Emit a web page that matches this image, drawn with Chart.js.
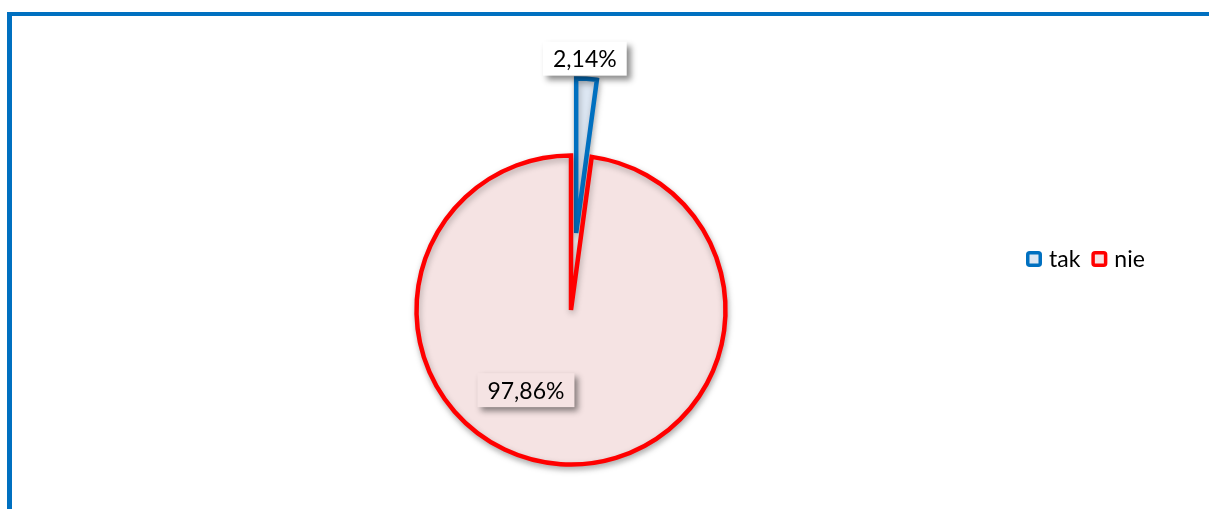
<!DOCTYPE html>
<html>
<head>
<meta charset="utf-8">
<script src="https://cdn.jsdelivr.net/npm/chart.js@4.4.0/dist/chart.umd.min.js"></script>
<style>
  html, body { margin: 0; padding: 0; background: #fff; }
  #wrap { position: relative; width: 1209px; height: 509px; overflow: hidden; }
  #frame {
    position: absolute; left: 7px; top: 12px; width: 1300px; height: 600px;
    border-left: 5px solid #0070c0; border-top: 4px solid #0070c0;
  }
  #chart { position: absolute; left: 0; top: 0; }
</style>
</head>
<body>
<div id="wrap">
  <div id="frame"></div>
  <canvas id="chart" width="1209" height="509"></canvas>
</div>
<script>
  // data
  const labels = ['tak', 'nie'];
  const values = [2.14, 97.86];

  const lineColors = ['#0070c0', '#ff0000'];
  const fillColors = ['#dde7f3', '#f5e3e3'];
  const boxFills = ['#ffffff', '#f5e3e3'];

  const fmt = (v) => v.toFixed(2).replace('.', ',') + '%';

  // excel-like slice explosion: move the slice out by a share of the radius
  // (chart.js' own "offset" also grows the slice, so it is done here instead)
  const explode = {
    id: 'explode',
    afterDatasetsUpdate(chart, args, opts) {
      const meta = chart.getDatasetMeta(0);
      meta.data.forEach((arc, i) => {
        const k = opts.share[i] || 0;
        if (!k) return;
        const mid = (arc.startAngle + arc.endAngle) / 2;
        arc.x += Math.cos(mid) * arc.outerRadius * k;
        arc.y += Math.sin(mid) * arc.outerRadius * k;
      });
    },
  };

  // soft shadow under the pie, like the original
  const pieShadow = {
    id: 'pieShadow',
    beforeDatasetsDraw(chart) {
      const ctx = chart.ctx;
      ctx.save();
      ctx.shadowColor = 'rgba(0,0,0,0.28)';
      ctx.shadowBlur = 6;
      ctx.shadowOffsetX = 1;
      ctx.shadowOffsetY = 3;
    },
    afterDatasetsDraw(chart) {
      chart.ctx.restore();
    },
  };

  // value labels in little boxes with a drop shadow
  const valueBoxes = {
    id: 'valueBoxes',
    afterDatasetsDraw(chart, args, opts) {
      const ctx = chart.ctx;
      const ds = chart.data.datasets[0];
      const meta = chart.getDatasetMeta(0);
      ctx.save();
      ctx.font = opts.font;
      ctx.textAlign = 'center';
      ctx.textBaseline = 'middle';
      meta.data.forEach((arc, i) => {
        const place = opts.place[i];
        const mid = (arc.startAngle + arc.endAngle) / 2;
        const a = mid + place.shift * Math.PI / 180;
        const d = arc.outerRadius * place.dist + place.gap;
        const cx = arc.x + Math.cos(a) * d;
        const cy = arc.y + Math.sin(a) * d;
        const text = fmt(ds.data[i]);
        const w = ctx.measureText(text).width + opts.padX * 2;
        const h = opts.height;

        ctx.save();
        ctx.shadowColor = 'rgba(0,0,0,0.45)';
        ctx.shadowBlur = 6;
        ctx.shadowOffsetX = 4;
        ctx.shadowOffsetY = 4;
        ctx.fillStyle = boxFills[i];
        ctx.fillRect(cx - w / 2, cy - h / 2, w, h);
        ctx.restore();

        ctx.fillStyle = '#000';
        ctx.fillText(text, cx, cy + 1);
      });
      ctx.restore();
    },
  };

  // legend in one row, the way the original has it
  const rowLegend = {
    id: 'rowLegend',
    afterDraw(chart, args, opts) {
      const ctx = chart.ctx;
      const ds = chart.data.datasets[0];
      ctx.save();
      ctx.font = opts.font;
      ctx.textBaseline = 'middle';
      ctx.textAlign = 'left';
      let x = opts.x;
      const y = opts.y;
      chart.data.labels.forEach((lab, i) => {
        const s = opts.box;
        ctx.fillStyle = ds.backgroundColor[i];
        ctx.strokeStyle = ds.borderColor[i];
        ctx.lineWidth = 3.5;
        ctx.beginPath();
        ctx.roundRect(x + 1.75, y - s / 2 + 1.75, s - 3.5, s - 3.5, 2);
        ctx.fill();
        ctx.stroke();
        ctx.fillStyle = '#000';
        ctx.fillText(lab, x + s + 7, y + 1);
        x += s + 7 + ctx.measureText(lab).width + 11;
      });
      ctx.restore();
    },
  };

  new Chart('chart', {
    type: 'pie',
    data: {
      labels: labels,
      datasets: [
        {
          data: values,
          backgroundColor: fillColors,
          borderColor: lineColors,
          borderWidth: 4.5,
          borderJoinStyle: 'miter',
        },
      ],
    },
    options: {
      responsive: false,
      animation: false,
      radius: 154.5,
      layout: {
        padding: { left: 0, right: 67, top: 111, bottom: 0 },
      },
      plugins: {
        legend: { display: false },
        tooltip: { enabled: false },
        explode: { share: [0.5, 0] },
        valueBoxes: {
          font: '23px Lato',
          padX: 10,
          height: 34,
          place: [
            { shift: -1, dist: 1, gap: 20 },
            { shift: 25.5, dist: 0.595, gap: 0 },
          ],
        },
        rowLegend: {
          font: '23px Lato',
          x: 1026,
          y: 259,
          box: 16,
        },
      },
    },
    plugins: [explode, pieShadow, valueBoxes, rowLegend],
  });
</script>
</body>
</html>
